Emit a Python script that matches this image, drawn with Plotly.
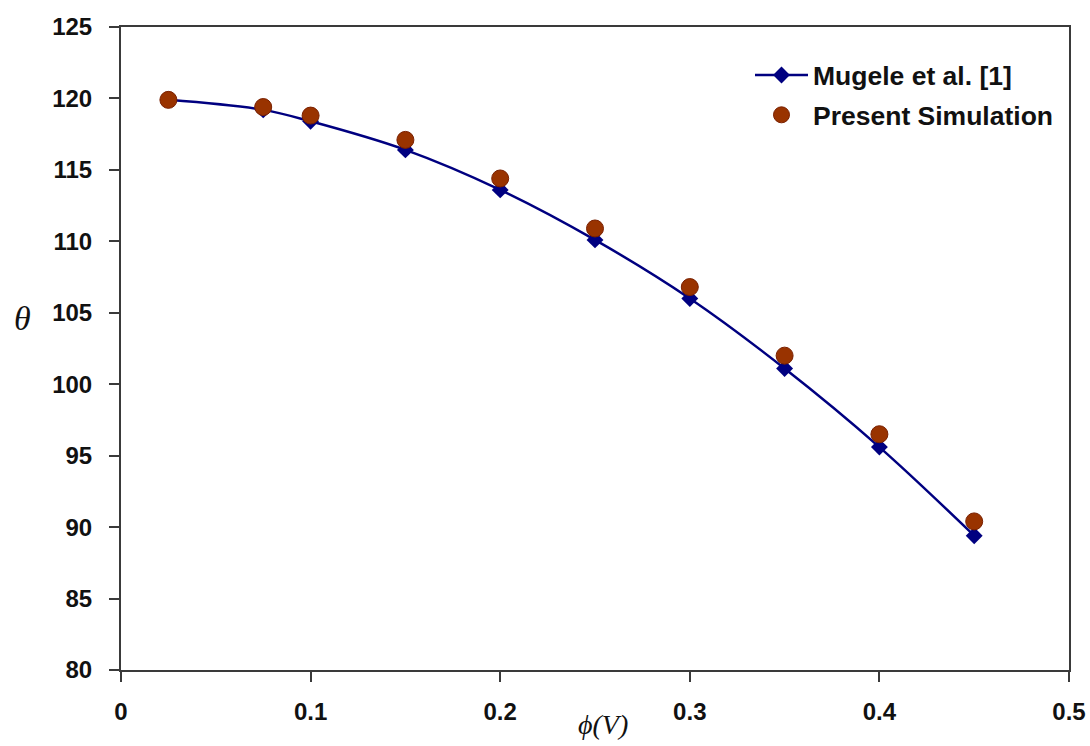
import plotly.graph_objects as go

# Applied voltage (V)
phi = [0.025, 0.075, 0.1, 0.15, 0.2, 0.25, 0.3, 0.35, 0.4, 0.45]
# Contact angle (deg), experimental reference
theta_mugele = [119.9, 119.2, 118.4, 116.4, 113.6, 110.1, 106.0, 101.1, 95.6, 89.4]
# Contact angle (deg), simulation
theta_sim = [119.9, 119.4, 118.8, 117.1, 114.4, 110.9, 106.8, 102.0, 96.5, 90.4]

x_ticks = [0, 0.1, 0.2, 0.3, 0.4, 0.5]
y_ticks = [80, 85, 90, 95, 100, 105, 110, 115, 120, 125]

NAVY = "#000080"
BROWN = "#993300"
AXIS = "#3a3a3a"
TICK_FONT = dict(family="Liberation Sans, Arial, sans-serif", size=24, color="#111111")

fig = go.Figure()
fig.add_trace(go.Scatter(
    x=phi, y=theta_mugele, mode="lines+markers", name="<b>Mugele et al. [1]</b>",
    line=dict(color=NAVY, width=2.5, shape="spline", smoothing=1.0),
    marker=dict(symbol="diamond", size=13, color=NAVY),
    legend="legend", showlegend=True,
))
fig.add_trace(go.Scatter(
    x=phi, y=theta_sim, mode="markers", name="<b>Present Simulation</b>",
    marker=dict(symbol="circle", size=17, color=BROWN, line=dict(color="#7a2000", width=1)),
    legend="legend2", showlegend=True,
))

legend_common = dict(
    font=dict(family="Liberation Sans, Arial, sans-serif", size=26.5, color="#111111"),
    bgcolor="rgba(0,0,0,0)", borderwidth=0, xanchor="left", yanchor="middle",
    itemwidth=53, visible=True,
)
fig.update_layout(
    width=1090, height=746,
    showlegend=True,
    margin=dict(l=121, r=21, t=27, b=76),
    paper_bgcolor="white", plot_bgcolor="white",
    legend=dict(x=0.6635, y=0.925, **legend_common),
    legend2=dict(x=0.6635, y=0.863, **legend_common),
    xaxis=dict(
        range=[0, 0.5], tickvals=x_ticks, ticktext=[f"<b>{t:g}</b>" for t in x_ticks],
        showgrid=False, zeroline=False, showline=True, linecolor=AXIS, linewidth=2,
        mirror=True, ticks="outside", ticklen=10, tickwidth=2, tickcolor=AXIS,
        tickfont=TICK_FONT, ticklabelstandoff=9, automargin=False,
    ),
    yaxis=dict(
        range=[80, 125], tickvals=y_ticks, ticktext=[f"<b>{t}</b>" for t in y_ticks],
        showgrid=False, zeroline=False, showline=True, linecolor=AXIS, linewidth=2,
        mirror=True, ticks="outside", ticklen=10, tickwidth=2, tickcolor=AXIS,
        tickfont=TICK_FONT, ticklabelstandoff=12, automargin=False,
    ),
    annotations=[
        dict(text="<i>θ</i>", xref="paper", yref="paper", x=-0.1035, y=0.547,
             xanchor="center", yanchor="middle", showarrow=False,
             font=dict(family="Liberation Serif, Times New Roman, serif", size=34, color="#111111")),
        dict(text="<i>ϕ(V)</i>", xref="paper", yref="paper", x=0.508, y=-0.085,
             xanchor="center", yanchor="middle", showarrow=False,
             font=dict(family="Liberation Serif, Times New Roman, serif", size=28, color="#111111")),
    ],
)

fig.write_html("out.html")
